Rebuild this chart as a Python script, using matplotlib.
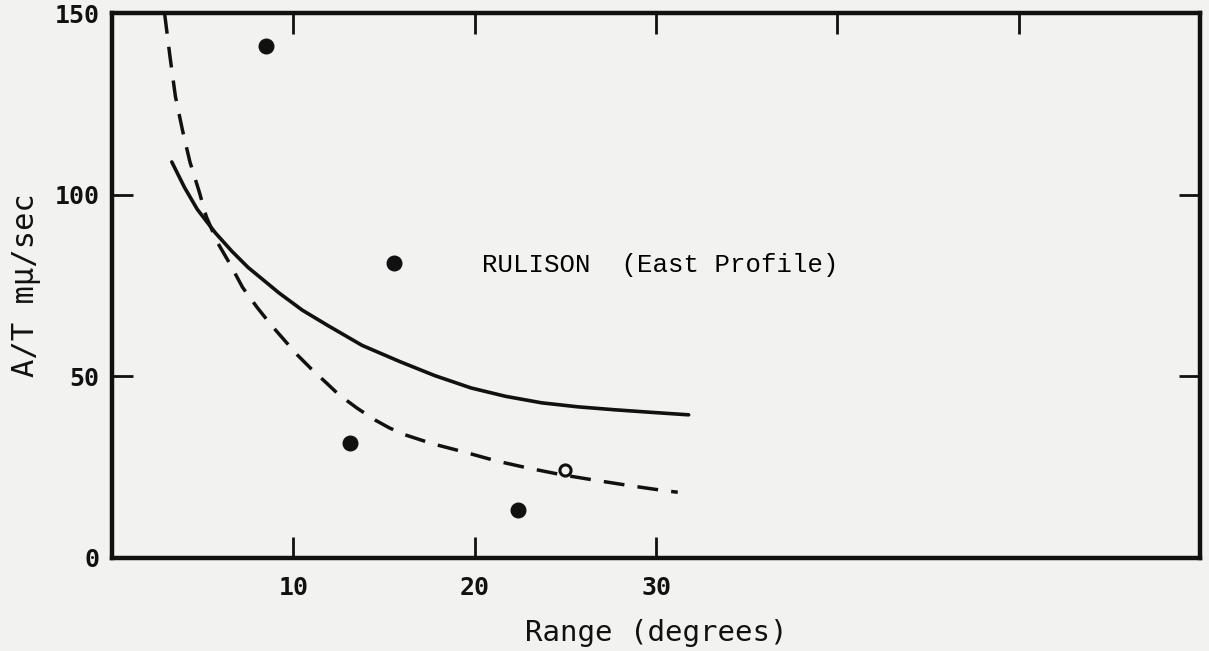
import matplotlib
matplotlib.use('Agg')
import matplotlib.pyplot as plt
from matplotlib.lines import Line2D

# measured points (range in degrees, A/T in mu/sec)
pts_x = [8.5, 13.1, 22.4]
pts_y = [141.0, 31.7, 13.2]
odd_x = [25.0]
odd_y = [24.2]

# solid curve
solid_x = [3.3, 4.0, 4.7, 5.7, 6.6, 7.5, 8.4, 9.2, 10.5, 11.9, 13.8, 15.9, 17.8,
           19.8, 21.7, 23.7, 25.7, 27.7, 29.7, 31.8]
solid_y = [109.0, 102.0, 96.0, 89.5, 84.5, 80.0, 76.3, 73.0, 68.2, 64.0, 58.5, 54.0, 50.2,
           46.8, 44.5, 42.7, 41.6, 40.8, 40.1, 39.4]

# dashed curve
dash_x = [2.9, 3.2, 3.5, 3.9, 4.3, 4.8, 5.2, 5.8, 6.5, 7.2, 8.0, 8.8, 9.5, 10.2, 11.0,
          11.8, 12.5, 13.5, 14.5, 15.3, 16.1, 17.7, 19.4, 21.2, 22.9, 24.8, 26.9,
          28.7, 30.5, 31.2]
dash_y = [150.0, 138.0, 127.0, 117.5, 109.0, 101.0, 94.0, 87.0, 81.0, 74.5, 69.0, 64.0,
          60.0, 56.0, 52.0, 48.3, 45.0, 41.3, 38.0, 35.8, 34.0, 31.4, 29.2, 26.7, 24.8,
          22.9, 21.2, 19.8, 18.5, 18.1]

bg = '#f2f2f0'
ink = '#111111'

fig = plt.figure(figsize=(12.09, 6.51), dpi=100, facecolor=bg)
ax = fig.add_axes([0.0926, 0.1429, 0.9, 0.8371])
ax.set_facecolor(bg)

ax.plot(solid_x, solid_y, color=ink, lw=2.6, solid_capstyle='round')
ax.plot(dash_x, dash_y, color=ink, lw=2.5, linestyle=(0, (6.0, 3.8)))
ax.plot(pts_x, pts_y, 'o', color=ink, ms=10.5)
ax.plot(odd_x, odd_y, 'o', color=ink, ms=8, mfc='none', mew=2.2)

ax.set_xlim(0, 60)
ax.set_ylim(0, 150)

for s in ax.spines.values():
    s.set_linewidth(3.2)
    s.set_color(ink)

mono = 'DejaVu Sans Mono'
ax.set_xticks([10, 20, 30])
ax.set_yticks([0, 50, 100, 150])
ax.tick_params(direction='in', length=15, width=2, color=ink, labelsize=18)
ax.tick_params(axis='x', pad=13)
ax.tick_params(axis='y', pad=9)
for lab in ax.get_xticklabels() + ax.get_yticklabels():
    lab.set_family(mono)
    lab.set_weight('bold')
    lab.set_color(ink)

top = ax.secondary_xaxis('top')
top.set_xticks([10, 20, 30, 40, 50])
top.tick_params(direction='in', length=15, width=2, color=ink, labeltop=False)
top.spines['top'].set_visible(False)
right = ax.secondary_yaxis('right')
right.set_yticks([50, 100])
right.tick_params(direction='in', length=15, width=2, color=ink, labelright=False)
right.spines['right'].set_visible(False)

ax.set_xlabel('Range (degrees)', family=mono, fontsize=21, color=ink, labelpad=14)
ax.set_ylabel('A/T mμ/sec', family=mono, fontsize=22, color=ink, labelpad=10)

key = Line2D([], [], marker='o', ls='none', color=ink, ms=10.5)
ax.legend([key], ['RULISON  (East Profile)'], loc='center left',
          bbox_to_anchor=(0.2477, 0.5376), frameon=False, borderpad=0,
          borderaxespad=0, handlelength=1, handletextpad=2.9,
          prop={'family': 'Liberation Mono', 'size': 18.5})

fig.savefig('out.png', dpi=100, facecolor=bg)
